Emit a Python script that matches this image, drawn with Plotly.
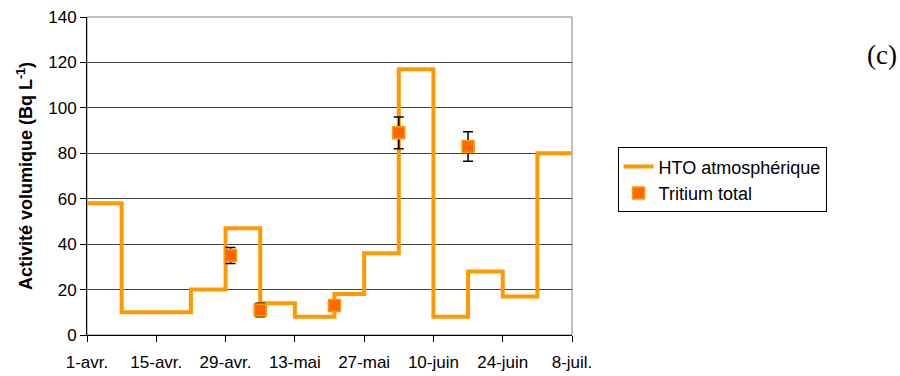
import plotly.graph_objects as go

# Step series: HTO atmosphérique (value starting at each date)
hto_dates = ["2008-04-01", "2008-04-08", "2008-04-22", "2008-04-29", "2008-05-06",
             "2008-05-13", "2008-05-21", "2008-05-27", "2008-06-03", "2008-06-10",
             "2008-06-17", "2008-06-24", "2008-07-01", "2008-07-08"]
hto_values = [58, 10, 20, 47, 14, 8, 18, 36, 117, 8, 28, 17, 80, 80]

# Tritium total points with error bars
tt_dates = ["2008-04-30", "2008-05-06", "2008-05-21", "2008-06-03", "2008-06-17"]
tt_values = [35, 11, 13, 89, 83]
tt_errors = [3.5, 3, 2, 7, 6.5]

tick_dates = ["2008-04-01", "2008-04-15", "2008-04-29", "2008-05-13", "2008-05-27",
              "2008-06-10", "2008-06-24", "2008-07-08"]
tick_labels = ["1-avr.", "15-avr.", "29-avr.", "13-mai", "27-mai", "10-juin", "24-juin", "8-juil."]

FONT = "Liberation Sans, Arial, sans-serif"

fig = go.Figure()
fig.add_trace(go.Scatter(
    x=hto_dates, y=hto_values, mode="lines", line_shape="hv",
    line=dict(color="#FF9900", width=4),
    name="HTO atmosphérique"))
fig.add_trace(go.Scatter(
    x=tt_dates, y=tt_values, mode="markers",
    marker=dict(symbol="square", size=12, color="#FF6600",
                line=dict(color="#FF9900", width=1.5)),
    error_y=dict(type="data", array=tt_errors, visible=True,
                 color="black", thickness=1.5, width=5),
    name="Tritium total"))

fig.update_layout(
    width=900, height=376,
    margin=dict(l=87, r=328, t=17, b=41),
    paper_bgcolor="white", plot_bgcolor="white",
    font=dict(family=FONT, size=17, color="black"),
    showlegend=True,
    legend=dict(x=1.094, y=0.59, xanchor="left", yanchor="top",
                bordercolor="black", borderwidth=1, bgcolor="white",
                font=dict(size=18, family=FONT), tracegroupgap=0,
                itemwidth=30),
    annotations=[dict(text="(c)", xref="paper", yref="paper",
                      x=1.639, y=0.88, xanchor="center", yanchor="middle",
                      showarrow=False,
                      font=dict(family="Liberation Serif, Times New Roman, serif", size=27))],
    shapes=[dict(type="rect", xref="paper", yref="paper", x0=0, x1=1, y0=0, y1=1,
                 line=dict(color="#808080", width=1), layer="below")],
)
fig.update_xaxes(
    range=["2008-04-01", "2008-07-08"], automargin=False,
    tickvals=tick_dates, ticktext=tick_labels,
    showgrid=False, zeroline=False,
    showline=True, linecolor="black", linewidth=1,
    ticks="outside", ticklen=6, tickcolor="black",
    tickfont=dict(size=17), ticklabelstandoff=6)
fig.update_yaxes(
    range=[0, 140], dtick=20, automargin=False,
    showgrid=True, gridcolor="#404040", gridwidth=1, zeroline=False,
    showline=True, linecolor="black", linewidth=1,
    ticks="outside", ticklen=6, tickcolor="black",
    tickfont=dict(size=17),
    title=dict(text="<b>Activité volumique (Bq L<sup>-1</sup>)</b>",
               font=dict(size=18), standoff=10))

fig.write_html("out.html", config={"displayModeBar": False},
               post_script="document.body.style.margin='0';")
